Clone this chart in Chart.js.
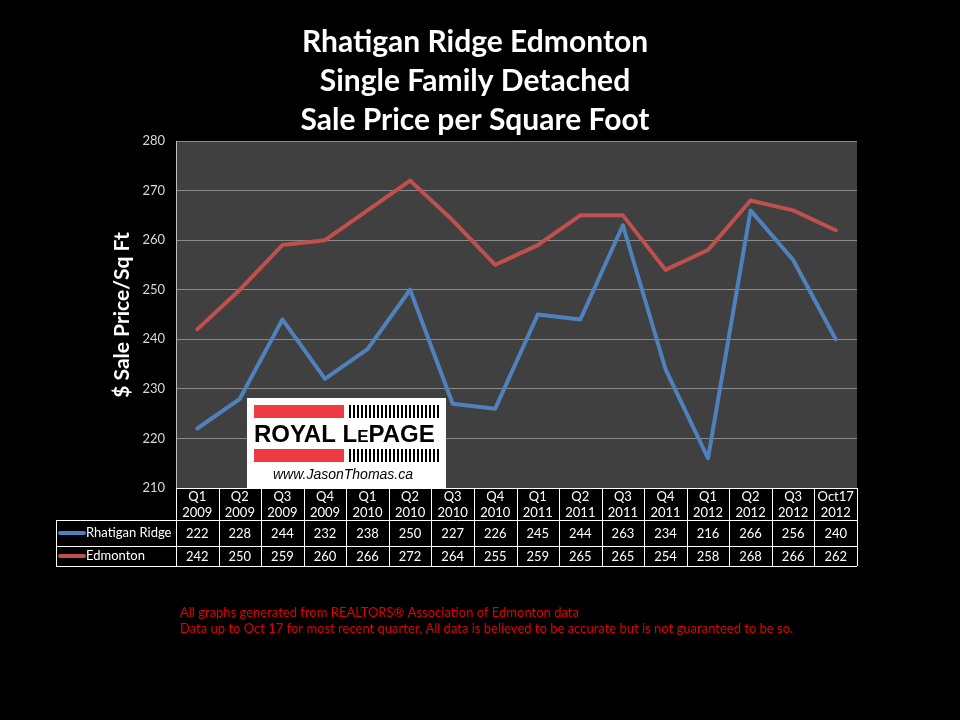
<!DOCTYPE html>
<html>
<head>
<meta charset="utf-8">
<script src="https://cdn.jsdelivr.net/npm/chart.js@4.4.1/dist/chart.umd.min.js"></script>
<style>
  html, body { margin: 0; padding: 0; background: #000; }
  #wrap { width: 960px; height: 720px; position: relative; }
</style>
</head>
<body>
<div id="wrap"><canvas id="chart" width="960" height="720"></canvas></div>
<script>
// quarter labels (two lines each)
const quarters = ['Q1', 'Q2', 'Q3', 'Q4', 'Q1', 'Q2', 'Q3', 'Q4', 'Q1', 'Q2', 'Q3', 'Q4', 'Q1', 'Q2', 'Q3', 'Oct17'];
const years = ['2009', '2009', '2009', '2009', '2010', '2010', '2010', '2010', '2011', '2011', '2011', '2011', '2012', '2012', '2012', '2012'];
const rhatigan = [222, 228, 244, 232, 238, 250, 227, 226, 245, 244, 263, 234, 216, 266, 256, 240];
const edmonton = [242, 250, 259, 260, 266, 272, 264, 255, 259, 265, 265, 254, 258, 268, 266, 262];
const titleLines = ['Rhatigan Ridge Edmonton', 'Single Family Detached', 'Sale Price per Square Foot'];
const footLines = [
    'All graphs generated from REALTORS\u00ae Association of Edmonton data',
    'Data up to Oct 17 for most recent quarter. All data is believed to be accurate but is not guaranteed to be so.'
];

const BLUE = '#4f81bd';
const RED = '#c0504d';
const TXT = "Lato, 'Open Sans', sans-serif";

// title, axis label, data table, logo, footnote
const decor = {
    id: 'decor',
    beforeDraw(chart) {
        const { ctx, chartArea: a } = chart;
        ctx.save();
        ctx.fillStyle = '#000';
        ctx.fillRect(0, 0, chart.width, chart.height);
        ctx.fillStyle = '#404040';
        ctx.fillRect(a.left, a.top, a.right - a.left, a.bottom - a.top);
        ctx.restore();
    },
    afterDatasetsDraw(chart) {
        const { ctx, chartArea: a } = chart;
        const x = chart.scales.x;
        ctx.save();

        // title
        ctx.fillStyle = '#fff';
        ctx.font = `bold 30px ${TXT}`;
        ctx.textAlign = 'center';
        ctx.textBaseline = 'middle';
        titleLines.forEach((t, i) => ctx.fillText(t, 475, 42 + i * 39));

        // y axis title
        ctx.save();
        ctx.translate(122, 315);
        ctx.rotate(-Math.PI / 2);
        ctx.font = `bold 21px ${TXT}`;
        ctx.fillText('$ Sale Price/Sq Ft', 0, 0);
        ctx.restore();

        // plot left border
        ctx.strokeStyle = '#bfbfbf';
        ctx.lineWidth = 1;
        ctx.beginPath();
        ctx.moveTo(a.left + 0.5, a.top);
        ctx.lineTo(a.left + 0.5, a.bottom);
        ctx.stroke();

        // logo
        const lx = 247, ly = 398;
        ctx.fillStyle = '#fff';
        ctx.fillRect(lx, ly, 199, 91);
        ctx.fillStyle = '#ee3b42';
        ctx.fillRect(lx + 7, ly + 7, 90, 13);
        ctx.fillRect(lx + 7, ly + 51, 90, 13);
        ctx.fillStyle = '#000';
        for (let i = 0; i < 23; i++) {
            ctx.fillRect(lx + 102 + i * 4, ly + 7, 2, 13);
            ctx.fillRect(lx + 102 + i * 4, ly + 51, 2, 13);
        }
        ctx.textAlign = 'left';
        ctx.textBaseline = 'alphabetic';
        ctx.font = `bold 24px 'Liberation Sans', Arial, sans-serif`;
        let px = lx + 7;
        ctx.fillText('ROYAL L', px, ly + 44);
        px += ctx.measureText('ROYAL L').width;
        ctx.font = `bold 17px 'Liberation Sans', Arial, sans-serif`;
        ctx.fillText('E', px, ly + 44);
        px += ctx.measureText('E').width;
        ctx.font = `bold 24px 'Liberation Sans', Arial, sans-serif`;
        ctx.fillText('PAGE', px, ly + 44);
        ctx.font = `italic 14px 'Liberation Sans', Arial, sans-serif`;
        ctx.textAlign = 'center';
        ctx.fillText('www.JasonThomas.ca', lx + 96, ly + 81);

        // data table
        const colW = (a.right - a.left) / quarters.length;
        const tLeft = 56;
        const hTop = a.bottom, hBot = 520, r1 = 546, r2 = 566;
        ctx.strokeStyle = '#fff';
        ctx.lineWidth = 1;
        ctx.beginPath();
        ctx.moveTo(a.left, hTop + 0.5); ctx.lineTo(a.right, hTop + 0.5);
        ctx.moveTo(tLeft, hBot + 0.5); ctx.lineTo(a.right, hBot + 0.5);
        ctx.moveTo(tLeft, r1 + 0.5); ctx.lineTo(a.right, r1 + 0.5);
        ctx.moveTo(tLeft, r2 + 0.5); ctx.lineTo(a.right, r2 + 0.5);
        ctx.moveTo(tLeft + 0.5, hBot); ctx.lineTo(tLeft + 0.5, r2);
        for (let i = 0; i <= quarters.length; i++) {
            const vx = Math.round(a.left + i * colW) + 0.5;
            ctx.moveTo(vx, hTop); ctx.lineTo(vx, r2);
        }
        ctx.stroke();

        ctx.fillStyle = '#fff';
        ctx.font = `13px ${TXT}`;
        ctx.textAlign = 'center';
        ctx.textBaseline = 'middle';
        quarters.forEach((q, i) => {
            const cx = x.getPixelForValue(i);
            ctx.fillText(q, cx, 497);
            ctx.fillText(years[i], cx, 513);
            ctx.fillText(String(rhatigan[i]), cx, (hBot + r1) / 2 + 1);
            ctx.fillText(String(edmonton[i]), cx, (r1 + r2) / 2 + 1);
        });

        // legend keys in table
        const rows = [[BLUE, 'Rhatigan Ridge', (hBot + r1) / 2], [RED, 'Edmonton', (r1 + r2) / 2]];
        rows.forEach(([c, label, cy]) => {
            ctx.strokeStyle = c;
            ctx.lineWidth = 4;
            ctx.lineCap = 'round';
            ctx.beginPath();
            ctx.moveTo(60, cy); ctx.lineTo(84, cy);
            ctx.stroke();
            ctx.textAlign = 'left';
            ctx.fillText(label, 86, cy);
        });

        // footnote
        ctx.fillStyle = '#e00000';
        ctx.font = `13px ${TXT}`;
        ctx.textAlign = 'left';
        footLines.forEach((t, i) => ctx.fillText(t, 180, 613 + i * 16));

        ctx.restore();
    }
};

new Chart(document.getElementById('chart'), {
    type: 'line',
    data: {
        labels: quarters.map((q, i) => q + ' ' + years[i]),
        datasets: [
            { label: 'Rhatigan Ridge', data: rhatigan, borderColor: BLUE, backgroundColor: BLUE },
            { label: 'Edmonton', data: edmonton, borderColor: RED, backgroundColor: RED }
        ]
    },
    options: {
        responsive: false,
        animation: false,
        layout: { padding: { left: 0, right: 103, top: 141, bottom: 232 } },
        elements: {
            point: { radius: 0 },
            line: { borderWidth: 4, tension: 0, borderJoinStyle: 'round', borderCapStyle: 'round' }
        },
        scales: {
            x: {
                type: 'category',
                offset: true,
                display: false
            },
            y: {
                min: 210,
                max: 280,
                afterFit: (s) => { s.width = 176; },
                border: { display: false },
                grid: { color: '#8a8a8a', lineWidth: 1, drawTicks: false },
                ticks: {
                    stepSize: 10,
                    color: '#d9d9d9',
                    padding: 11,
                    font: { family: TXT, size: 13 }
                }
            }
        },
        plugins: {
            legend: { display: false },
            title: { display: false },
            tooltip: { enabled: false }
        }
    },
    plugins: [decor]
});
</script>
</body>
</html>
